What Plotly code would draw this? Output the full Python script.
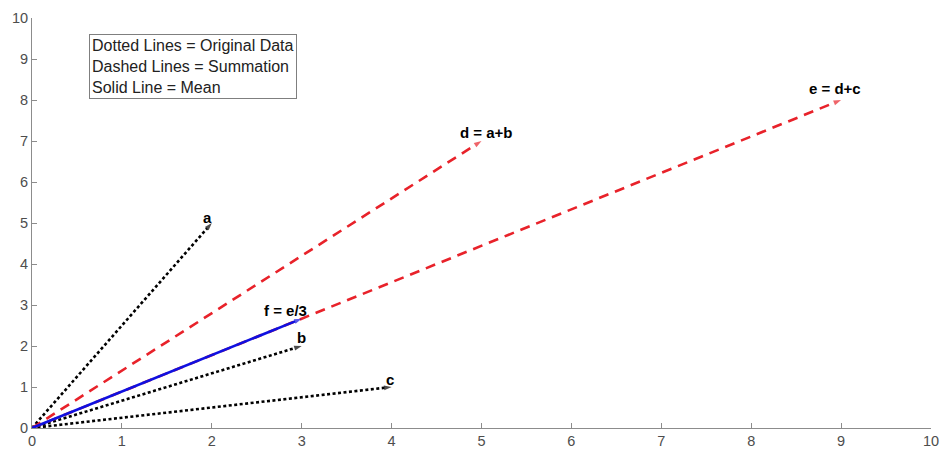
import plotly.graph_objects as go

# Vector data (tips; all start at origin)
names = ["a", "b", "c", "d", "e", "f"]
tip_x = [2, 3, 4, 5, 9, 3]
tip_y = [5, 2, 1, 7, 8, 8 / 3]
labels = ["a", "b", "c", "d = a+b", "e = d+c", "f = e/3"]
kinds = ["orig", "orig", "orig", "sum", "sum", "mean"]

x_ticks = list(range(0, 11))
y_ticks = list(range(0, 11))
legend_lines = ["Dotted Lines = Original Data", "Dashed Lines = Summation", "Solid Line = Mean"]

styles = {
    "orig": dict(color="black", dash="3px,2.5px", width=2.6),
    "sum": dict(color="#e8222a", dash="10px,7px", width=2.6),
    "mean": dict(color="#1010e0", dash="solid", width=2.6),
}
label_shift = {"a": (-4, -5), "b": (0, -2), "c": (-2, -3), "d = a+b": (5, -2),
               "e = d+c": (-6, 1), "f = e/3": (-16, -2)}

fig = go.Figure()
for i in range(len(names)):
    st = styles[kinds[i]]
    fig.add_trace(go.Scatter(
        x=[0, tip_x[i]], y=[0, tip_y[i]], mode="lines+markers",
        line=dict(color=st["color"], dash=st["dash"], width=st["width"]),
        marker=dict(symbol="arrow", angleref="previous", size=[0, 8],
                    color=st["color"], line=dict(width=0)),
        showlegend=False, hoverinfo="skip", cliponaxis=False,
    ))

for i in range(len(names)):
    dx, dy = label_shift[labels[i]]
    fig.add_annotation(x=tip_x[i], y=tip_y[i], text="<b>" + labels[i] + "</b>",
                       showarrow=False, xanchor="center", yanchor="bottom",
                       xshift=dx, yshift=dy,
                       font=dict(family="Liberation Sans, Arial", size=15, color="black"))

fig.add_annotation(
    x=0, y=1, xref="paper", yref="paper",
    xanchor="left", yanchor="top", xshift=57, yshift=-16,
    text="<br>".join(legend_lines), showarrow=False, align="left",
    font=dict(family="Liberation Sans, Arial", size=16, color="#222222"),
    bordercolor="#7f7f7f", borderwidth=1, borderpad=2, bgcolor="white",
)

axis_common = dict(
    showgrid=False, zeroline=False, showline=True, linecolor="#8c8c8c",
    linewidth=1, ticks="inside", ticklen=5, tickcolor="#8c8c8c",
    tickfont=dict(family="Liberation Sans, Arial", size=14.5, color="#4d4d4d"),
    mirror=False, automargin=False,
)
fig.update_xaxes(range=[0, 10], tickvals=x_ticks, **axis_common)
fig.update_yaxes(range=[0, 10], tickvals=y_ticks, **axis_common)

fig.update_layout(
    width=940, height=449,
    margin=dict(l=32, r=9, t=18, b=21),
    plot_bgcolor="white", paper_bgcolor="white",
)

fig.write_html("out.html")
